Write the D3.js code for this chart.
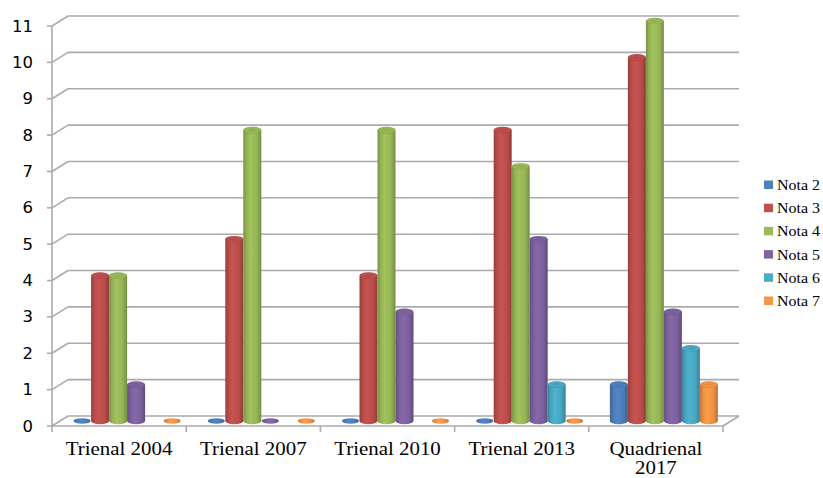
<!DOCTYPE html>
<html>
<head>
<meta charset="utf-8">
<script src="https://cdn.jsdelivr.net/npm/d3@7"></script>
<style>
  html, body { margin: 0; padding: 0; background: #fff; }
  svg { display: block; }
</style>
</head>
<body>
<svg id="chart" width="823" height="478"></svg>
<script>
// Evaluation periods and number of programs per grade
const categories = ["Trienal 2004", "Trienal 2007", "Trienal 2010", "Trienal 2013", "Quadrienal 2017"];
const seriesNames = ["Nota 2", "Nota 3", "Nota 4", "Nota 5", "Nota 6", "Nota 7"];
const nota2 = [0, 0, 0, 0, 1];
const nota3 = [4, 5, 4, 8, 10];
const nota4 = [4, 8, 8, 7, 11];
const nota5 = [1, 0, 3, 5, 3];
const nota6 = [null, null, null, 1, 2];
const nota7 = [0, 0, 0, 0, 1];
const seriesColors = ["#4F81BD", "#C0504D", "#9BBB59", "#8064A2", "#4BACC6", "#F79646"];
const yTicks = [0, 1, 2, 3, 4, 5, 6, 7, 8, 9, 10, 11];

const seriesValues = [nota2, nota3, nota4, nota5, nota6, nota7];

const svg = d3.select("#chart");

// Plot frame (front plane) and depth offset of the back wall
const plotLeft = 52, plotRight = 723, plotTop = 26, plotBottom = 426;
const depthX = 16, depthY = -10;
const textStretch = 1.1;
const gridColor = "#ababab";

const x = d3.scaleBand().domain(categories).range([plotLeft, plotRight]).paddingInner(0).paddingOuter(0);
const y = d3.scaleLinear().domain([0, 11]).range([plotBottom, plotTop]);
const groupWidth = 108;
const xs = d3.scaleBand().domain(seriesNames).range([0, groupWidth]).padding(0);

// Gradients giving each bar a rounded cylinder look
const defs = svg.append("defs");
seriesColors.forEach((c, i) => {
  const base = d3.color(c);
  const g = defs.append("linearGradient").attr("id", "cyl" + i)
    .attr("x1", "0%").attr("x2", "100%").attr("y1", "0%").attr("y2", "0%");
  g.append("stop").attr("offset", "0%").attr("stop-color", base.darker(0.7));
  g.append("stop").attr("offset", "18%").attr("stop-color", base.darker(0.15));
  g.append("stop").attr("offset", "40%").attr("stop-color", base.brighter(0.12));
  g.append("stop").attr("offset", "75%").attr("stop-color", base.darker(0.1));
  g.append("stop").attr("offset", "100%").attr("stop-color", base.darker(0.8));
  const t = defs.append("radialGradient").attr("id", "cap" + i)
    .attr("cx", "50%").attr("cy", "50%").attr("r", "55%");
  t.append("stop").attr("offset", "0%").attr("stop-color", base.darker(0.2));
  t.append("stop").attr("offset", "70%").attr("stop-color", base.darker(0.05));
  t.append("stop").attr("offset", "100%").attr("stop-color", base.darker(0.6));
});

// Walls and floor
const walls = svg.append("g").attr("fill", "none").attr("stroke", gridColor).attr("stroke-width", 1.6);
yTicks.forEach(v => {
  const yf = y(v);
  walls.append("line").attr("x1", plotLeft + depthX).attr("x2", plotRight + depthX)
    .attr("y1", yf + depthY).attr("y2", yf + depthY);
  walls.append("line").attr("x1", plotLeft).attr("x2", plotLeft + depthX)
    .attr("y1", yf).attr("y2", yf + depthY);
});
// floor front edge and right edge
walls.append("line").attr("x1", plotLeft).attr("x2", plotRight).attr("y1", y(0)).attr("y2", y(0));
walls.append("line").attr("x1", plotRight).attr("x2", plotRight + depthX).attr("y1", y(0)).attr("y2", y(0) + depthY);

// Vertical axis with tick marks
const axisMarks = svg.append("g").attr("stroke", gridColor).attr("stroke-width", 1.6);
axisMarks.append("line").attr("x1", plotLeft).attr("x2", plotLeft).attr("y1", y(11)).attr("y2", y(0));
yTicks.forEach(v => {
  axisMarks.append("line").attr("x1", plotLeft - 5).attr("x2", plotLeft).attr("y1", y(v)).attr("y2", y(v));
});
// Category tick marks
const xTickPos = categories.map(c => x(c)).concat([plotRight]);
xTickPos.forEach(px => {
  axisMarks.append("line").attr("x1", px).attr("x2", px).attr("y1", y(0)).attr("y2", y(0) + 6);
});

// Y tick labels
svg.append("g").selectAll("text").data(yTicks).join("text")
  .attr("transform", d => `translate(33,${y(d) + 5.5}) scale(${textStretch},1)`)
  .attr("text-anchor", "end")
  .attr("font-family", "DejaVu Sans, sans-serif")
  .attr("font-size", 15)
  .attr("fill", "#000")
  .text(d => d);

// Category labels (serif, wrapped)
const catLabels = svg.append("g");
categories.forEach(c => {
  const cx = x(c) + x.bandwidth() / 2;
  const words = c.startsWith("Quadrienal") ? c.split(" ") : [c];
  words.forEach((w, k) => {
    catLabels.append("text")
      .attr("transform", `translate(${cx},${455 + k * 19}) scale(${textStretch},1)`)
      .attr("text-anchor", "middle")
      .attr("font-family", "Liberation Serif, Times New Roman, serif")
      .attr("font-size", 19)
      .attr("fill", "#000")
      .text(w);
  });
});

// Cylinders, placed half way into the depth of the floor
const rx = 9, ry = 3.3;
const bars = svg.append("g");
categories.forEach((c, ci) => {
  const gx = x(c) + (x.bandwidth() - groupWidth) / 2 + depthX / 2;
  seriesNames.forEach((s, si) => {
    const v = seriesValues[si][ci];
    if (v === null || v === undefined) return;
    const cx = gx + xs(s) + xs.bandwidth() / 2;
    const yBase = y(0) + depthY / 2;
    const yTop = y(v) + depthY / 2;
    if (v > 0) {
      // body closes with the lower half of the base ellipse
      const d = `M${cx - rx},${yTop} L${cx - rx},${yBase} A${rx},${ry} 0 0 0 ${cx + rx},${yBase} L${cx + rx},${yTop} Z`;
      bars.append("path").attr("d", d).attr("fill", `url(#cyl${si})`);
      bars.append("ellipse").attr("cx", cx).attr("cy", yTop).attr("rx", rx).attr("ry", ry)
        .attr("fill", `url(#cap${si})`);
    } else {
      bars.append("ellipse").attr("cx", cx).attr("cy", yBase).attr("rx", rx - 0.5).attr("ry", 2.7)
        .attr("fill", `url(#cyl${si})`);
    }
  });
});

// Legend
const legend = svg.append("g");
seriesNames.forEach((s, i) => {
  const ly = 185 + i * 23.2;
  legend.append("rect").attr("x", 764).attr("y", ly - 4.5).attr("width", 9).attr("height", 8.5)
    .attr("fill", seriesColors[i]);
  legend.append("text")
    .attr("transform", `translate(777,${ly + 5}) scale(${textStretch},1)`)
    .attr("font-family", "Liberation Serif, Times New Roman, serif")
    .attr("font-size", 14.5)
    .attr("fill", "#000")
    .text(s);
});
</script>
</body>
</html>
